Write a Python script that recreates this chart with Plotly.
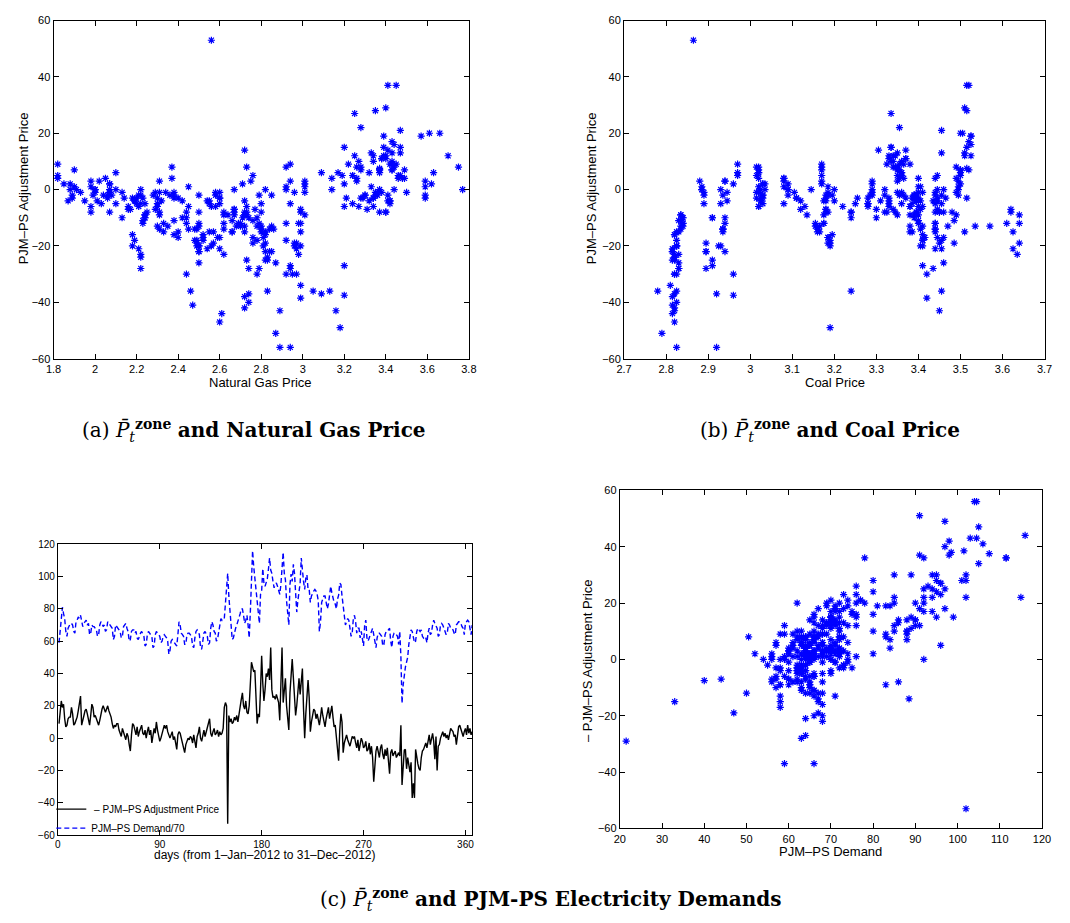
import plotly.graph_objects as go

# ---------------- data (daily, 1-Jan-2012 .. 31-Dec-2012) ----------------
days = list(range(1, 367))

# minus PJM-PS adjustment price (black line in panel c)
neg_adj_price = [
    9, 15, 23, 19, 21, 12, 7, 8, 12, 13,
    13, 19, 15, 8, 9, 11, 13, 17, 21, 26,
    8, 12, 14, 17, 18, 15, 12, 8, 14, 21,
    19, 13, 14, 12, 10, 8, 11, 15, 18, 20,
    17, 16, 18, 20, 17, 15, 13, 9, 6, 8,
    7, 9, 9, 5, 3, 1, 6, 4, 2, -1,
    3, 1, -4, -8, 2, 9, 8, 5, 2, 7,
    1, 4, 6, 8, 3, 2, 5, 0, 4, 7,
    2, 5, -3, 1, 6, 3, 10, 5, 2, -2,
    0, 3, 5, 8, 6, 8, 4, 2, 0, 2,
    4, -1, 1, -3, -7, 2, 4, 3, 0, -2,
    -5, -9, -4, -2, 0, -1, 1, 0, -3, 2,
    -4, -6, 1, 3, 7, 0, -2, 3, 5, 1,
    4, 6, 9, 12, 3, 1, 4, 6, 2, 3,
    5, 1, 4, 2, 3, 6, 19, 22, 20, -53,
    14, 10, 12, 9, 10, 13, 11, 14, 10, 16,
    21, 24, 28, 20, 18, 23, 16, 15, 20, 36,
    47, 44, 41, 42, 22, 9, 15, 13, 30, 51,
    34, 23, 30, 40, 38, 43, 36, 56, 30, 25,
    26, 24, 27, 25, 22, 11, 30, 56, 22, 28,
    37, 20, 12, 5, 28, 38.5, 49, 37.5, 22, 14,
    20, 30, 37, 27, 36, 43, 18, 0, 15, 28,
    36, 25, 4, 10, 14, 18, 17, 12, 15, 10,
    8, 13, 19, 14, 9, 7, 12, 16, 19, 12,
    17, 20, 13, 7, 8, 2, -8, -14, 5, 15,
    10, -9, -3, 0, 2, -1, -3, -5, -2, 1,
    0, 1, -3, -6, -1, -8, -4, 0, -2, -6,
    -5, -2, -8, -7, -3, -10, -5, -12, -27, -15,
    -8, -5, -9, -12, -6, -4, -10, -13, -7, -11,
    -6, -14, -22, -9, -7, -11, -9, -8, -12, -10,
    -9, -11, 8, -29, -15, -7.5, -7, -19, -12, -17,
    -21, -15, -37, -28, -37, -7, -13, -16, -19, -20,
    -12, -8, -7, -5, -3, -6, -1, 2, -4, 0,
    3, -2, -13, 1, -20, -5, -4, 0, 2, 4,
    1, 3, 0, 2, -1, 3, 6, 5, 4, 1,
    2, -4, 3, 7, 8, 5, 3, 1, 4, 6,
    2, 8, 3, 6, 2, 4,
]

# PJM-PS demand / 70
demand = [
    59, 66, 76, 81, 77, 74, 66, 63, 68, 70,
    71, 71, 70, 66, 65, 72, 73, 75, 74, 76,
    72, 69, 71, 72, 73, 70, 71, 64, 65, 70,
    69, 69, 68, 67, 63, 64, 70, 72, 71, 69,
    70, 66, 67, 72, 71, 70, 69, 68, 61, 63,
    70, 69, 68, 67, 66, 62, 63, 69, 70, 71,
    68, 66, 60, 61, 66, 67, 67, 65, 66, 62,
    61, 64, 65, 66, 64, 63, 57, 58, 64, 66,
    65, 64, 63, 56, 57, 64, 66, 65, 64, 63,
    59, 60, 63, 64, 63, 62, 60, 52, 54, 60,
    61, 60, 59, 58, 57, 64, 72, 70, 65, 64,
    63, 58, 58, 64, 65, 65, 64, 63, 57, 56,
    62, 66, 67, 66, 64, 56, 55, 62, 65, 66,
    64, 63, 58, 59, 68, 72, 70, 66, 65, 60,
    61, 66, 72, 74, 73, 74, 74, 85, 92, 102,
    88, 80, 70, 61, 62, 66, 68, 70, 72, 75,
    77, 80, 80, 76, 71, 73, 76, 70, 62, 78,
    105, 116, 106, 98, 94, 83, 76, 71, 89, 91,
    105, 96, 94, 97, 98.5, 104.5, 111.5, 104, 102, 97,
    93, 95, 96, 94, 92, 89, 95, 104.5, 115, 102,
    98, 85, 76, 70, 95, 101.5, 97, 107.5, 102, 90,
    78, 85, 91, 96, 111.5, 103, 97, 92, 99, 101,
    92, 92, 84, 88, 90, 91, 92, 91, 89, 85,
    66, 72, 84, 86, 88, 88, 85, 80, 83, 90,
    94, 90, 86, 84, 83, 80, 86, 88.5, 96, 95,
    88, 83, 75, 70, 72, 74, 73, 68, 63, 65,
    74, 76, 72, 65, 68, 68, 62, 66, 62, 57,
    70, 73, 62, 60, 62, 65, 66, 68, 64, 58,
    56, 62, 65, 65, 64, 63, 57, 58, 64, 66,
    66, 67, 68, 60, 56, 63, 65, 65, 64, 63,
    58, 66, 50.5, 21.5, 33, 40, 44, 47, 50, 58,
    64, 67, 66, 63, 59, 60, 66, 68, 67, 66,
    67, 63, 62, 63, 62, 59, 65, 68, 64, 65,
    70, 73, 71, 69, 68, 63, 64, 70, 71, 70,
    68, 66, 64, 65, 71, 70, 68, 68, 67, 65,
    64, 70, 71, 72, 72, 71, 69, 68, 64, 71,
    72, 73, 72, 68, 64, 70,
]

gas_price = [
    3.01, 2.99, 2.98, 2.96, 2.97, 2.99, 2.99, 2.99, 2.92, 2.85,
    2.80, 2.76, 2.72, 2.72, 2.72, 2.66, 2.68, 2.59, 2.54, 2.50,
    2.50, 2.50, 2.45, 2.40, 2.48, 2.55, 2.62, 2.62, 2.62, 2.60,
    2.57, 2.50, 2.48, 2.44, 2.44, 2.44, 2.38, 2.40, 2.49, 2.50,
    2.52, 2.52, 2.52, 2.56, 2.60, 2.66, 2.70, 2.72, 2.73, 2.73,
    2.67, 2.67, 2.64, 2.60, 2.60, 2.60, 2.58, 2.55, 2.50, 2.45,
    2.40, 2.38, 2.37, 2.37, 2.36, 2.31, 2.31, 2.30, 2.28, 2.29,
    2.29, 2.32, 2.30, 2.25, 2.23, 2.22, 2.22, 2.22, 2.19, 2.17,
    2.21, 2.24, 2.31, 2.31, 2.21, 2.20, 2.13, 2.10, 2.08, 2.07,
    2.07, 2.06, 2.03, 2.07, 1.98, 1.98, 2.01, 2.06, 2.00, 1.99,
    1.95, 1.98, 2.00, 1.98, 1.90, 1.89, 1.87, 1.89, 1.91, 1.85,
    1.82, 1.82, 1.82, 1.88, 1.88, 1.90, 1.93, 2.00, 2.02, 2.04,
    2.05, 2.10, 2.07, 2.14, 2.16, 2.10, 2.07, 2.18, 2.20, 2.13,
    2.19, 2.16, 2.24, 2.23, 2.30, 2.34, 2.42, 2.45, 2.38, 2.38,
    2.55, 2.58, 2.54, 2.58, 2.60, 2.56, 2.49, 2.50, 2.50, 2.56,
    2.49, 2.42, 2.33, 2.24, 2.24, 2.30, 2.23, 2.31, 2.24, 2.18,
    2.21, 2.22, 2.22, 2.18, 2.19, 2.22, 2.38, 2.33, 2.49, 2.46,
    2.60, 2.61, 2.47, 2.72, 2.50, 2.62, 2.57, 2.35, 2.44, 2.87,
    2.99, 2.62, 2.78, 2.74, 2.72, 2.89, 2.83, 2.89, 2.97, 2.82,
    2.87, 2.83, 2.94, 2.73, 2.84, 2.76, 2.92, 2.94, 2.85, 2.74,
    2.74, 2.81, 2.98, 2.94, 2.79, 2.99, 3.18, 3.20, 2.82, 2.86,
    2.96, 2.95, 3.09, 3.20, 3.13, 3.16, 2.92, 2.92, 2.80, 2.94,
    3.05, 2.83, 2.72, 2.74, 2.80, 2.78, 2.76, 2.70, 2.66, 2.71,
    2.67, 2.78, 2.82, 2.84, 2.73, 2.77, 2.79, 2.82, 2.97, 2.69,
    2.81, 2.99, 2.72, 2.67, 2.80, 2.79, 2.73, 2.72, 2.80, 2.82,
    2.78, 2.94, 2.94, 2.82, 2.85, 2.92, 2.75, 2.76, 2.71, 2.96,
    2.67, 3.01, 3.01, 3.09, 3.01, 2.92, 3.14, 3.14, 3.01, 3.17,
    3.24, 3.20, 3.26, 3.28, 3.26, 3.27, 3.24, 3.25, 3.25, 3.20,
    3.28, 3.19, 3.22, 3.34, 3.32, 3.26, 3.34, 3.33, 3.37, 3.38,
    3.37, 3.41, 3.28, 3.43, 3.43, 3.40, 3.42, 3.44, 3.39, 3.43,
    3.45, 3.38, 3.40, 3.40, 3.39, 3.37, 3.43, 3.39, 3.40, 3.43,
    3.47, 3.47, 3.41, 3.35, 3.45, 3.37, 3.43, 3.44, 3.57, 3.61,
    3.70, 3.75, 3.49, 3.46, 3.59, 3.63, 3.59, 3.59, 3.48, 3.77,
    3.59, 3.62, 3.47, 3.50, 3.66, 3.47, 3.46, 3.44, 3.41, 3.42,
    3.36, 3.34, 3.37, 3.35, 3.33, 3.34, 3.34, 3.42, 3.41, 3.35,
    3.36, 3.49, 3.29, 3.31, 3.40, 3.24, 3.28, 3.38, 3.42, 3.27,
    3.30, 3.37, 3.21, 3.20, 3.30, 3.32,
]

coal_price = [
    3.64, 3.625, 3.635, 3.64, 3.625, 3.64, 3.62, 3.62, 3.61, 3.57,
    3.535, 3.485, 3.51, 3.48, 3.49, 3.485, 3.47, 3.46, 3.455, 3.46,
    3.45, 3.44, 3.44, 3.445, 3.455, 3.44, 3.44, 3.45, 3.44, 3.44,
    3.45, 3.41, 3.405, 3.40, 3.39, 3.395, 3.40, 3.385, 3.41, 3.405,
    3.415, 3.41, 3.41, 3.41, 3.415, 3.38, 3.38, 3.38, 3.40, 3.395,
    3.405, 3.39, 3.40, 3.385, 3.39, 3.40, 3.38, 3.395, 3.39, 3.40,
    3.37, 3.36, 3.355, 3.35, 3.365, 3.35, 3.345, 3.36, 3.355, 3.34,
    3.35, 3.33, 3.33, 3.325, 3.33, 3.32, 3.33, 3.32, 3.31, 3.30,
    3.29, 3.28, 3.29, 3.29, 3.28, 3.28, 3.30, 3.28, 3.285, 3.29,
    3.29, 3.255, 3.25, 3.24, 3.22, 3.24, 3.20, 3.195, 3.20, 3.185,
    3.18, 3.185, 3.185, 3.17, 3.17, 3.18, 3.175, 3.18, 3.145, 3.17,
    3.17, 3.17, 3.08, 3.09, 3.09, 3.08, 3.105, 3.09, 3.08, 3.09,
    3.08, 3.02, 3.02, 3.11, 3.12, 3.025, 3.03, 3.11, 3.08, 3.02,
    3.12, 3.13, 3.135, 3.155, 3.025, 3.02, 3.025, 3.02, 3.03, 3.015,
    3.03, 3.015, 3.025, 3.03, 3.03, 3.02, 2.895, 2.895, 2.925, 2.865,
    2.935, 2.91, 2.84, 2.835, 2.84, 2.835, 2.83, 2.835, 2.84, 2.82,
    2.815, 2.82, 2.83, 2.825, 2.825, 2.83, 2.82, 2.83, 2.825, 2.825,
    2.82, 2.815, 2.815, 2.82, 2.815, 2.835, 2.825, 2.84, 2.82, 2.79,
    2.81, 2.82, 2.82, 2.825, 2.815, 2.82, 2.78, 2.825, 2.825, 2.815,
    2.83, 2.82, 2.91, 2.91, 2.815, 2.835, 2.96, 2.92, 2.94, 2.83,
    2.82, 2.825, 2.84, 2.93, 2.895, 3.42, 3.19, 2.96, 2.895, 2.935,
    2.93, 3.42, 2.92, 3.41, 3.455, 3.45, 3.41, 2.93, 2.935, 3.435,
    3.24, 2.82, 2.945, 2.94, 2.935, 3.19, 3.185, 2.94, 3.16, 2.91,
    3.18, 3.165, 3.19, 3.16, 3.175, 3.18, 3.175, 3.195, 3.185, 3.175,
    3.185, 3.19, 3.155, 3.18, 3.185, 2.935, 3.17, 3.305, 2.89, 3.165,
    3.24, 2.97, 2.94, 2.885, 2.89, 2.885, 2.94, 2.97, 2.96, 2.89,
    2.885, 2.945, 2.88, 2.97, 3.02, 3.015, 3.02, 3.035, 3.03, 3.02,
    3.015, 3.035, 3.02, 3.02, 3.35, 3.335, 3.35, 3.34, 3.335, 3.335,
    3.345, 3.36, 3.355, 3.345, 3.36, 3.365, 3.34, 3.35, 3.355, 3.33,
    3.36, 3.37, 3.355, 3.365, 3.35, 3.37, 3.325, 3.34, 3.33, 3.36,
    3.38, 3.37, 3.32, 3.51, 3.335, 3.515, 3.52, 3.525, 3.51, 3.52,
    3.455, 3.515, 3.515, 3.515, 3.52, 3.50, 3.51, 3.525, 3.525, 3.505,
    3.525, 3.49, 3.50, 3.50, 3.495, 3.50, 3.495, 3.495, 3.49, 3.495,
    3.515, 3.50, 3.455, 3.49, 3.50, 3.445, 3.44, 3.445, 3.44, 3.435,
    3.44, 3.445, 3.46, 3.455, 3.405, 3.40, 3.41, 3.44, 3.445, 3.40,
    3.395, 3.40, 3.39, 3.445, 3.44, 3.455, 3.465, 3.41, 3.395, 3.40,
    3.39, 3.46, 3.385, 3.38, 3.39, 3.405,
]

adj_price = [-v for v in neg_adj_price]

# tick values
gas_ticks = [1.8, 2.0, 2.2, 2.4, 2.6, 2.8, 3.0, 3.2, 3.4, 3.6, 3.8]
coal_ticks = [2.7, 2.8, 2.9, 3.0, 3.1, 3.2, 3.3, 3.4, 3.5, 3.6, 3.7]
price_ticks = [-60, -40, -20, 0, 20, 40, 60]
day_ticks = [0, 90, 180, 270, 360]
c_yticks = [-60, -40, -20, 0, 20, 40, 60, 80, 100, 120]
demand_ticks = [20, 30, 40, 50, 60, 70, 80, 90, 100, 110, 120]

# ---------------- figure ----------------
W, H = 1070, 923
SANS = "Liberation Sans, Arial, Helvetica, sans-serif"
SERIF = "DejaVu Serif, serif"

def px(x):
    return x / W

def py(y):
    return 1 - y / H

marker = dict(symbol="asterisk-open", size=6, color="blue",
              line=dict(color="blue", width=1.2))

fig = go.Figure()
fig.add_trace(go.Scatter(x=gas_price, y=adj_price, mode="markers", marker=marker,
                         xaxis="x", yaxis="y", showlegend=False))
fig.add_trace(go.Scatter(x=coal_price, y=adj_price, mode="markers", marker=marker,
                         xaxis="x2", yaxis="y2", showlegend=False))
fig.add_trace(go.Scatter(x=days, y=neg_adj_price, mode="lines",
                         line=dict(color="black", width=1.4),
                         name=" \u2013 PJM\u2013PS Adjustment Price",
                         xaxis="x3", yaxis="y3"))
fig.add_trace(go.Scatter(x=days, y=demand, mode="lines",
                         line=dict(color="blue", width=1.4, dash="5px,3px"),
                         name="PJM\u2013PS Demand/70",
                         xaxis="x3", yaxis="y3"))
fig.add_trace(go.Scatter(x=demand, y=neg_adj_price, mode="markers", marker=marker,
                         xaxis="x4", yaxis="y4", showlegend=False))


def axis(domain, rng, ticks, anchor, size=11):
    return dict(domain=domain, range=rng, tickmode="array", tickvals=ticks,
                ticks="inside", ticklen=5, tickwidth=1, tickcolor="black",
                showline=True, linecolor="black", linewidth=1, mirror="ticks",
                showgrid=False, zeroline=False, anchor=anchor,
                tickfont=dict(family=SANS, size=size, color="black"))

a_x = [px(46.3), px(468.3)]
a_y = [py(357.3), py(14.7)]
b_x = [px(626), px(1053.3)]
c_x = [px(50.7), px(471.7)]
c_y = [py(840), py(545.3)]
d_x = [px(621.7), px(1050.7)]
d_y = [py(833.3), py(490.7)]

fig.update_layout(
    width=W, height=H, autosize=False,
    margin=dict(l=0, r=0, t=0, b=0),
    paper_bgcolor="white", plot_bgcolor="white",
    xaxis=axis(a_x, [1.8, 3.8], gas_ticks, "y"),
    yaxis=axis(a_y, [-60, 60], price_ticks, "x"),
    xaxis2=axis(b_x, [2.7, 3.7], coal_ticks, "y2"),
    yaxis2=axis(a_y, [-60, 60], price_ticks, "x2"),
    xaxis3=axis(c_x, [0, 366], day_ticks, "y3", size=10),
    yaxis3=axis(c_y, [-60, 120], c_yticks, "x3", size=10),
    xaxis4=axis(d_x, [20, 120], demand_ticks, "y4"),
    yaxis4=axis(d_y, [-60, 60], price_ticks, "x4"),
    legend=dict(x=px(44), y=py(799), xanchor="left", yanchor="top",
                bgcolor="rgba(0,0,0,0)", borderwidth=0, tracegroupgap=0,
                font=dict(family=SANS, size=10, color="black")),
    showlegend=True,
)

ann = []

def label(text, x, y, size=13, angle=0, family=SANS):
    ann.append(dict(text=text, x=px(x), y=py(y), xref="paper", yref="paper",
                    showarrow=False, xanchor="center", yanchor="middle",
                    textangle=angle, font=dict(family=family, size=size, color="black")))

label("Natural Gas Price", 257, 381)
label("PJM\u2013PS Adjustment Price", 16, 185, angle=-90)
label("Coal Price", 840, 381)
label("PJM\u2013PS Adjustment Price", 593, 185, angle=-90)
label("days (from 1\u2013Jan\u20132012 to 31\u2013Dec\u20132012)", 261, 860, size=12)
label("PJM\u2013PS Demand", 836, 857)
label("\u2013 PJM\u2013PS Adjustment Price", 589, 663, angle=-90)

pz = "<i>P\u0304</i><sub><i>t</i></sub><sup><b>zone</b></sup>"
label("(a) " + pz + " <b>and Natural Gas Price</b>", 250, 430, size=20, family=SERIF)
label("(b) " + pz + " <b>and Coal Price</b>", 835, 430, size=20, family=SERIF)
label("(c) " + pz + " <b>and PJM-PS Electricity Demands</b>", 552, 905, size=20, family=SERIF)

fig.update_layout(annotations=ann)
fig.write_html("out.html")
